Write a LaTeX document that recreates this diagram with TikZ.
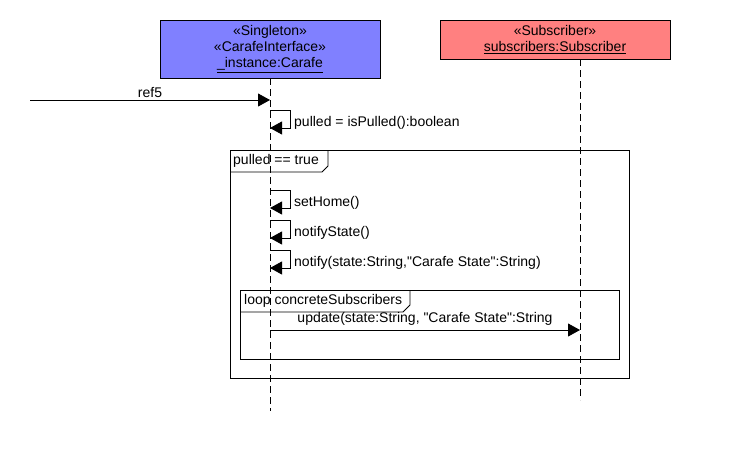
\documentclass[tikz,border=0pt]{standalone}
\usepackage{fontspec}
\setmainfont{Liberation Sans}[Ligatures=TeXOff]
\usetikzlibrary{arrows.meta}
\definecolor{singletonblue}{RGB}{128,128,255}
\definecolor{subscriberred}{RGB}{255,128,128}
\begin{document}
\begin{tikzpicture}[x=1pt,y=-1pt,
  every node/.style={font=\fontsize{14}{16}\selectfont},
  lifebox/.style={draw, line width=0.8pt, align=center, inner sep=0pt},
  lifeline/.style={line width=0.8pt, dash pattern=on 7pt off 4pt},
  msg/.style={line width=0.8pt, -{Triangle[length=12pt,width=13pt]}},
  frame/.style={line width=0.8pt},
  msglabel/.style={inner sep=1pt},
]
\useasboundingbox (0,0) rectangle (730,450);

% participants
\node[lifebox, fill=singletonblue, minimum width=220pt, minimum height=58pt] (carafe) at (270,49)
  {«Singleton»\\«CarafeInterface»\\\underline{\_instance:Carafe}};
\node[lifebox, fill=subscriberred, minimum width=230pt, minimum height=39pt] (subs) at (555,39.5)
  {«Subscriber»\\\underline{subscribers:Subscriber}};

% lifelines
\coordinate (carafeEnd) at (270,411);
\coordinate (subsEnd) at (580,400);
\coordinate (carafeTop) at (270,78);
\coordinate (subsTop) at (580,59);
\draw[lifeline] (carafeTop) -- (carafeEnd);
\draw[lifeline] (subsTop) -- (subsEnd);

% found message
\coordinate (src) at (30,100);
\coordinate (ref5In) at (270,100);
\draw[msg] (src) -- node[msglabel, above=1pt] (ref5lbl) {ref5} (ref5In);

% self messages
\foreach \name/\top/\txt in {pull/110/{pulled = isPulled():boolean},
                             home/190/{setHome()},
                             state/220/{notifyState()},
                             notify/250/{notify(state:String,"Carafe State":String)}}{
  \coordinate (\name A) at (270,\top);
  \coordinate (\name B) at (270,\top+18);
  \draw[msg] (\name A) -- ++(20,0) |- (\name B);
  \node[msglabel, anchor=west] (\name lbl) at (293,\top+13) {\txt};
}

% opt frame
\draw[frame] (230,150) rectangle (629,378);
\draw[frame] (230,172) -- (322,172) -- (328,166) -- (328,150);
\node[msglabel, anchor=west] (optlbl) at (232,161) {pulled == true};

% loop frame
\draw[frame] (240,290) rectangle (619,359);
\draw[frame] (240,312) -- (403,312) -- (410,305) -- (410,290);
\node[msglabel, anchor=west] (looplbl) at (243,301) {loop concreteSubscribers};

% update message
\coordinate (updA) at (270,330);
\coordinate (updB) at (580,330);
\draw[msg] (updA) -- node[msglabel, above=3pt] (updlbl) {update(state:String, "Carafe State":String} (updB);
\end{tikzpicture}
\end{document}
